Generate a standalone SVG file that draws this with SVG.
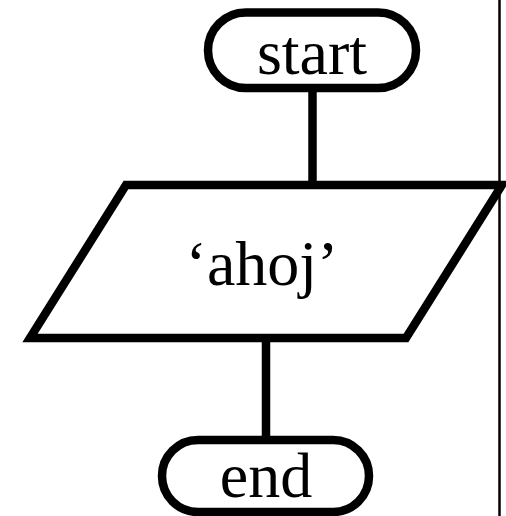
<svg xmlns="http://www.w3.org/2000/svg" width="506" height="516" viewBox="0 0 506 516">
<style>
.shape{fill:#fff;stroke:#000;stroke-width:8.5}
.conn{stroke:#000;stroke-width:8.5;fill:none}
.lbl{font-family:"Liberation Serif","Times New Roman",serif;font-size:64px;fill:#000;text-anchor:middle}
</style>
<rect x="0" y="0" width="506" height="516" fill="#fff"/>
<g id="connectors">
<line class="conn" x1="312.5" y1="88" x2="312.5" y2="185"/>
<line class="conn" x1="266" y1="338" x2="266" y2="440"/>
</g>
<g id="start">
<rect class="shape" x="208" y="12.5" width="208" height="75.5" rx="37.75"/>
<text class="lbl" x="312" y="74">start</text>
</g>
<g id="output">
<polygon class="shape" points="126,185 502,185 406,338 30,338"/>
<text class="lbl" x="262" y="285">‘ahoj’</text>
</g>
<g id="end">
<rect class="shape" x="162" y="440" width="207" height="72" rx="36"/>
<text class="lbl" x="266" y="497">end</text>
</g>
<line x1="499.5" y1="0" x2="499.5" y2="516" stroke="#000" stroke-width="2.5"/>
</svg>
